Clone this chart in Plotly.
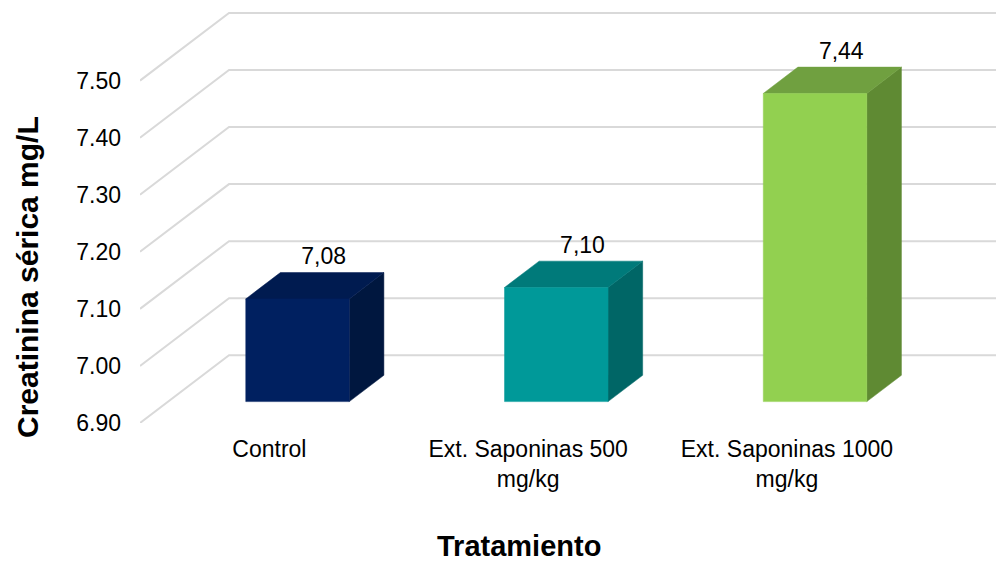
import plotly.graph_objects as go

# Data
categories = ["Control", "Ext. Saponinas 500 mg/kg", "Ext. Saponinas 1000 mg/kg"]
tick_text = ["Control", "Ext. Saponinas 500<br>mg/kg", "Ext. Saponinas 1000<br>mg/kg"]
values = [7.08, 7.10, 7.44]
y_ticks = [6.90, 7.00, 7.10, 7.20, 7.30, 7.40, 7.50]

# Face colours per bar: front, top, side
front_colors = ["#002060", "#009999", "#92D050"]
top_colors = ["#001b50", "#007a7a", "#70a040"]
side_colors = ["#00173f", "#006666", "#5f8a33"]

# Oblique projection of the 3D box (depth 0 = front, 1 = back wall)
DX = 0.344      # horizontal shift of full depth, in category units
DY = 0.1186     # vertical shift of full depth, in value units
BASE = 6.90
HALF_W = 0.20
D0, D1 = 0.316, 0.705
X_MIN, X_MAX = -0.5, 2.808
Y_MAX = 7.6412


def proj(u, v, d):
    return u + d * DX, v + d * DY


def poly(points):
    xs, ys = zip(*[proj(*p) for p in points])
    return list(xs) + [xs[0]], list(ys) + [ys[0]]


fig = go.Figure()

# Walls: gridlines along the left side wall and across the back wall
for t in y_ticks:
    pts = [proj(-0.5, t, 0), proj(-0.5, t, 1), proj(2.6, t, 1)]
    fig.add_trace(go.Scatter(
        x=[p[0] for p in pts], y=[p[1] for p in pts], mode="lines",
        line=dict(color="#d9d9d9", width=2), hoverinfo="skip", showlegend=False))

# 3D bars
for i, v in enumerate(values):
    l, r = i - HALF_W, i + HALF_W
    faces = [
        ([(r, BASE, D0), (r, BASE, D1), (r, v, D1), (r, v, D0)], side_colors[i]),
        ([(l, v, D0), (r, v, D0), (r, v, D1), (l, v, D1)], top_colors[i]),
        ([(l, BASE, D0), (r, BASE, D0), (r, v, D0), (l, v, D0)], front_colors[i]),
    ]
    for pts, col in faces:
        xs, ys = poly(pts)
        fig.add_trace(go.Scatter(
            x=xs, y=ys, mode="lines", fill="toself", fillcolor=col,
            line=dict(color=col, width=0.5), hoverinfo="skip", showlegend=False))

# Value labels
fig.add_trace(go.Scatter(
    x=[i + 0.21 for i in range(len(values))],
    y=[v + 0.108 for v in values],
    mode="text",
    text=[f"{v:.2f}".replace(".", ",") for v in values],
    textposition="middle center",
    textfont=dict(family="Arial", size=23, color="#000000"),
    hoverinfo="skip", showlegend=False))

fig.update_layout(
    width=996, height=563,
    margin=dict(l=140, r=0, t=0, b=140),
    plot_bgcolor="white", paper_bgcolor="white",
    font=dict(family="Arial", color="#000000"),
    xaxis=dict(
        range=[X_MIN, X_MAX], tickvals=list(range(len(categories))), ticktext=tick_text,
        showgrid=False, zeroline=False, showline=False, ticks="",
        tickfont=dict(size=23, color="#000000"), ticklabelstandoff=10),
    yaxis=dict(
        range=[BASE, Y_MAX], tickvals=y_ticks, tickformat=".2f",
        showgrid=False, zeroline=False, showline=False, ticks="",
        tickfont=dict(size=23, color="#000000"), ticklabelstandoff=18),
    annotations=[
        dict(text="<b>Creatinina sérica mg/L</b>", textangle=-90,
             xref="paper", yref="paper", x=(27 - 140) / 856, y=(423 - 277) / 423,
             xanchor="center", yanchor="middle", showarrow=False,
             font=dict(size=30, color="#000000", family="Arial")),
        dict(text="<b>Tratamiento</b>",
             xref="paper", yref="paper", x=(519 - 140) / 856, y=(423 - 546) / 423,
             xanchor="center", yanchor="middle", showarrow=False,
             font=dict(size=29, color="#000000", family="Arial")),
    ],
)

fig.write_html("out.html")
